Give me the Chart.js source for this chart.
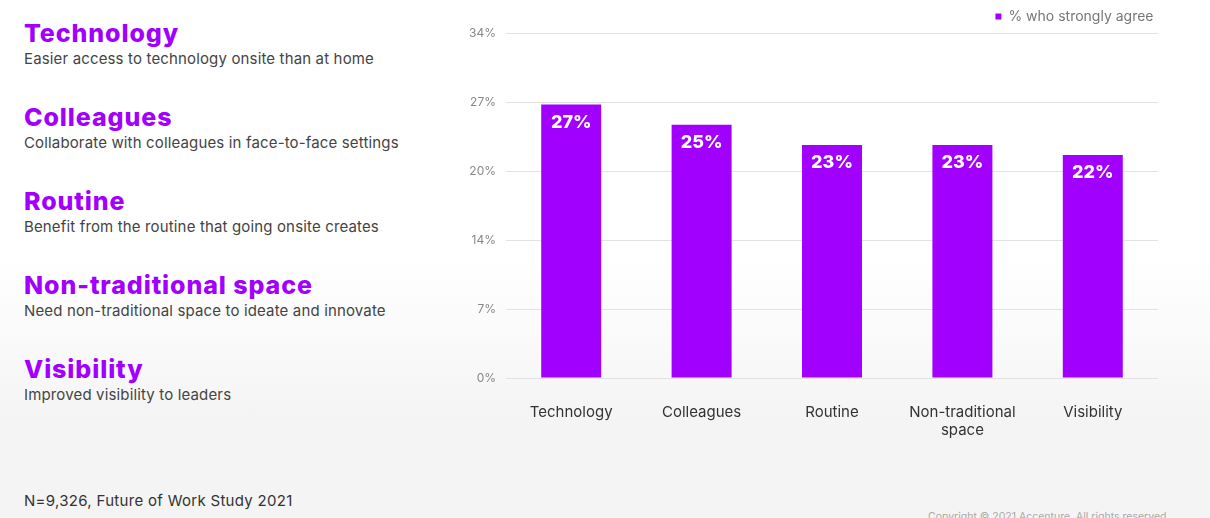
<!DOCTYPE html>
<html>
<head>
<meta charset="utf-8">
<script src="https://cdn.jsdelivr.net/npm/chart.js@4/dist/chart.umd.min.js"></script>
<style>
  html, body { margin: 0; padding: 0; }
  body {
    width: 1210px; height: 518px; overflow: hidden; position: relative;
    background: linear-gradient(to bottom, #ffffff 0%, #ffffff 50%, #f4f4f4 82%, #f4f4f4 100%);
    font-family: Inter, "Noto Sans", sans-serif;
  }
  #chart { position: absolute; left: 0; top: 0; }
  .reason { position: absolute; left: 24px; }
  .reason h2 { margin: 0; font-size: 25px; font-weight: 800; color: #a100ff; line-height: 28px; letter-spacing: 0.9px; }
  .reason p { margin: 2px 0 0 0; font-size: 15px; color: #444; line-height: 20px; letter-spacing: 0.15px; }
  #note { position: absolute; left: 24px; top: 491px; font-size: 15px; color: #333; letter-spacing: 0.3px; }
  #copy { position: absolute; left: 928px; top: 510px; font-size: 10.5px; color: #aaa; white-space: nowrap; }
</style>
</head>
<body>
<div id="reasons"></div>
<div id="note">N=9,326, Future of Work Study 2021</div>
<div id="copy">Copyright © 2021 Accenture. All rights reserved.</div>
<canvas id="chart" width="1210" height="518"></canvas>
<script>
// Reasons for going onsite, with the share of respondents who strongly agree
const categories = ["Technology", "Colleagues", "Routine", ["Non-traditional", "space"], "Visibility"];
const headings = ["Technology", "Colleagues", "Routine", "Non-traditional space", "Visibility"];
const descriptions = [
  "Easier access to technology onsite than at home",
  "Collaborate with colleagues in face-to-face settings",
  "Benefit from the routine that going onsite creates",
  "Need non-traditional space to ideate and innovate",
  "Improved visibility to leaders"
];
const stronglyAgree = [27, 25, 23, 23, 22];
const seriesName = "% who strongly agree";
const axisMax = 34;
const tickCount = 5;

const PURPLE = "#a100ff";
const FONT = "Inter, 'Noto Sans', sans-serif";

// Left-hand list of reasons
const list = document.getElementById("reasons");
headings.forEach((h, i) => {
  const d = document.createElement("div");
  d.className = "reason";
  d.style.top = (19 + i * 84) + "px";
  d.innerHTML = "<h2></h2><p></p>";
  d.querySelector("h2").textContent = h;
  d.querySelector("p").textContent = descriptions[i];
  list.appendChild(d);
});

// Value labels drawn inside the top of each bar
const barValueLabels = {
  id: "barValueLabels",
  afterDatasetsDraw(chart) {
    const ctx = chart.ctx;
    const meta = chart.getDatasetMeta(0);
    ctx.save();
    ctx.fillStyle = "#ffffff";
    ctx.font = "800 18px " + FONT;
    ctx.textAlign = "center";
    ctx.textBaseline = "middle";
    meta.data.forEach((bar, i) => {
      ctx.fillText(stronglyAgree[i] + "%", bar.x, bar.y + 18);
    });
    ctx.restore();
  }
};

new Chart(document.getElementById("chart"), {
  type: "bar",
  data: {
    labels: categories,
    datasets: [{
      label: seriesName,
      data: stronglyAgree,
      backgroundColor: PURPLE,
      borderWidth: 0,
      barPercentage: 0.46,
      categoryPercentage: 1.0
    }]
  },
  options: {
    responsive: false,
    animation: false,
    layout: { padding: { left: 440, right: 52, top: 5, bottom: 0 } },
    plugins: {
      legend: {
        display: true,
        position: "top",
        align: "end",
        labels: {
          boxWidth: 6, boxHeight: 6, padding: 4.5,
          color: "#777",
          font: { family: FONT, size: 14 }
        }
      },
      tooltip: { enabled: false }
    },
    scales: {
      x: {
        grid: { display: false },
        border: { display: false },
        ticks: {
          color: "#333", padding: 17, maxRotation: 0,
          font: { family: FONT, size: 15, lineHeight: 1.2 }
        },
        afterFit(scale) { scale.height = 140; }
      },
      y: {
        min: 0, max: axisMax,
        border: { display: false },
        grid: { color: "#e2e2e2", drawTicks: false, lineWidth: 1 },
        ticks: {
          stepSize: axisMax / tickCount,
          padding: 10,
          color: "#888",
          font: { family: FONT, size: 12 },
          callback: (v) => Math.round(v) + "%"
        },
        afterFit(scale) { scale.width = 66; }
      }
    }
  },
  plugins: [barValueLabels]
});
</script>
</body>
</html>
